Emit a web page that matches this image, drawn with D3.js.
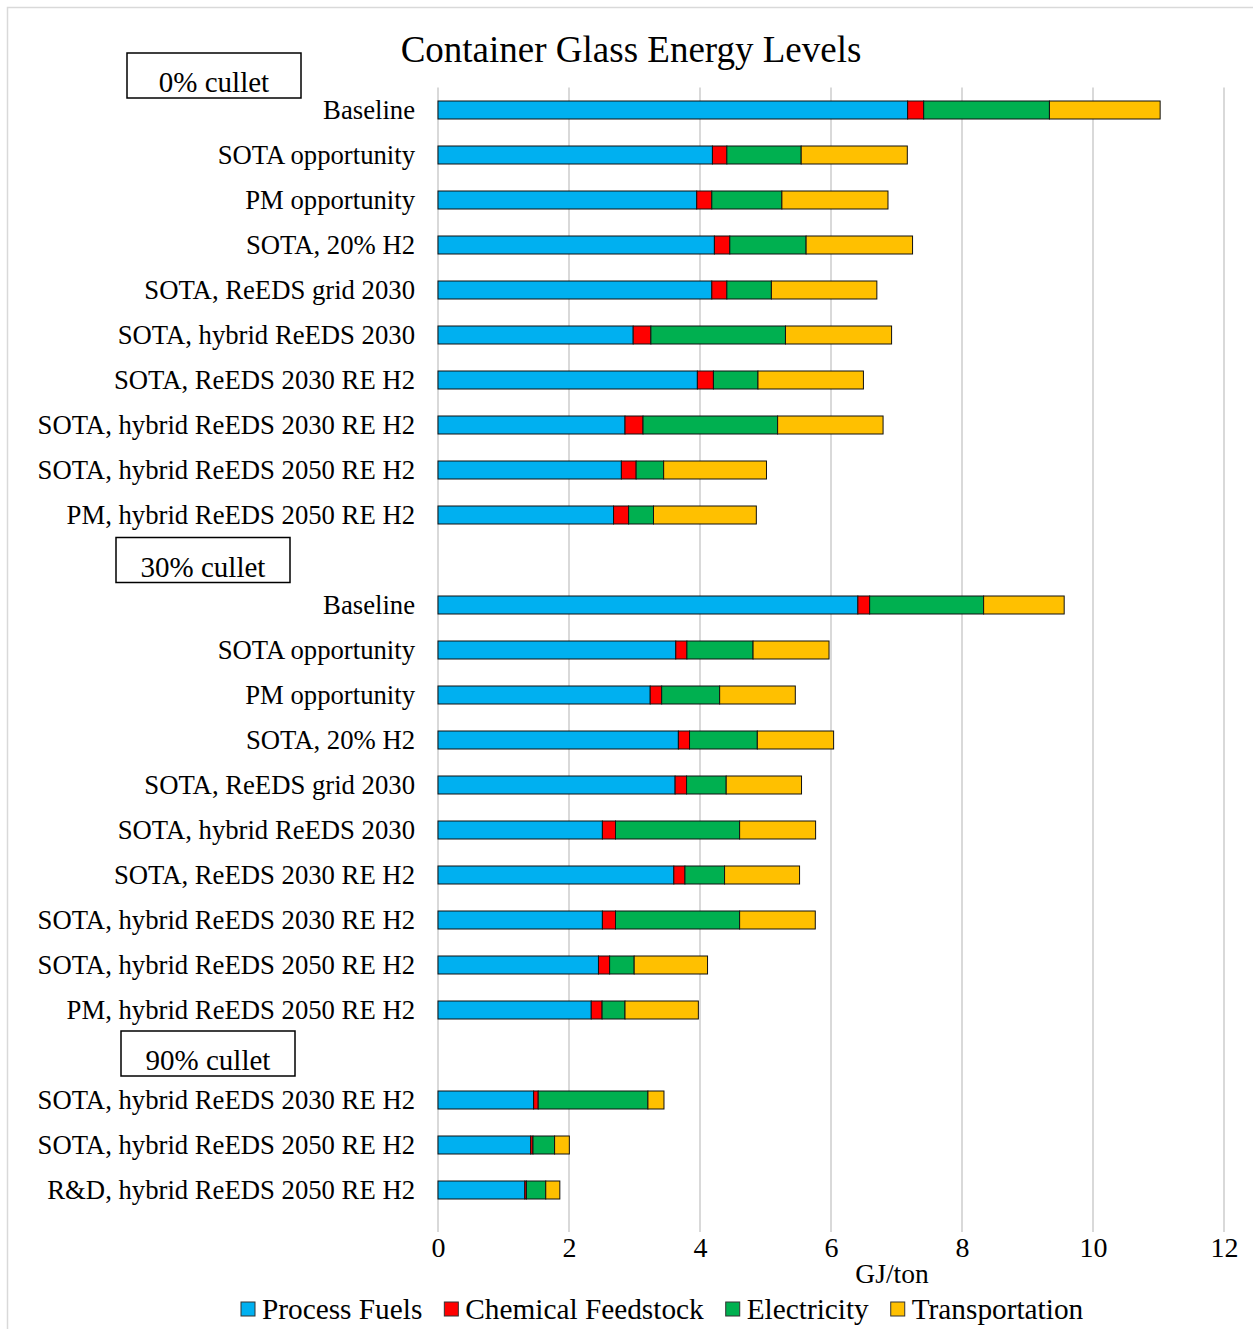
<!DOCTYPE html>
<html>
<head>
<meta charset="utf-8">
<script src="https://cdn.jsdelivr.net/npm/d3@7"></script>
<style>
  html, body { margin: 0; padding: 0; background: #fff; }
  svg { display: block; font-family: "Liberation Serif", "Times New Roman", serif; }
</style>
</head>
<body>
<svg id="chart" width="1253" height="1329"></svg>
<script>
// ---- Data (GJ/ton) ----
const groups = ["0% cullet", "30% cullet", "90% cullet"];

const scenarios0 = [
  "Baseline", "SOTA opportunity", "PM opportunity", "SOTA, 20% H2",
  "SOTA, ReEDS grid 2030", "SOTA, hybrid ReEDS 2030", "SOTA, ReEDS 2030 RE H2",
  "SOTA, hybrid ReEDS 2030 RE H2", "SOTA, hybrid ReEDS 2050 RE H2", "PM, hybrid ReEDS 2050 RE H2"
];
const scenarios30 = [
  "Baseline", "SOTA opportunity", "PM opportunity", "SOTA, 20% H2",
  "SOTA, ReEDS grid 2030", "SOTA, hybrid ReEDS 2030", "SOTA, ReEDS 2030 RE H2",
  "SOTA, hybrid ReEDS 2030 RE H2", "SOTA, hybrid ReEDS 2050 RE H2", "PM, hybrid ReEDS 2050 RE H2"
];
const scenarios90 = [
  "SOTA, hybrid ReEDS 2030 RE H2", "SOTA, hybrid ReEDS 2050 RE H2", "R&D, hybrid ReEDS 2050 RE H2"
];

const seriesNames = ["Process Fuels", "Chemical Feedstock", "Electricity", "Transportation"];
const seriesColors = ["#00B0F0", "#FF0000", "#00B050", "#FFC000"];

// values listed in order: 0% cullet (10), 30% cullet (10), 90% cullet (3)
const processFuels = [
  7.17, 4.19, 3.95, 4.22, 4.18, 2.98, 3.96, 2.855, 2.80, 2.68,
  6.41, 3.63, 3.24, 3.67, 3.62, 2.51, 3.60, 2.51, 2.45, 2.34,
  1.46, 1.415, 1.325
];
const chemicalFeedstock = [
  0.245, 0.22, 0.23, 0.235, 0.23, 0.27, 0.245, 0.275, 0.225, 0.23,
  0.18, 0.17, 0.175, 0.17, 0.175, 0.20, 0.17, 0.20, 0.17, 0.165,
  0.07, 0.035, 0.025
];
const electricity = [
  1.92, 1.135, 1.07, 1.165, 0.68, 2.055, 0.68, 2.055, 0.42, 0.38,
  1.74, 1.01, 0.885, 1.035, 0.605, 1.895, 0.605, 1.895, 0.375, 0.35,
  1.675, 0.33, 0.295
];
const transportation = [
  1.69, 1.62, 1.62, 1.625, 1.61, 1.62, 1.61, 1.61, 1.57, 1.57,
  1.23, 1.16, 1.155, 1.165, 1.15, 1.16, 1.145, 1.155, 1.12, 1.12,
  0.245, 0.225, 0.215
];

const xTicks = [0, 2, 4, 6, 8, 10, 12];
const xTitle = "GJ/ton";
const chartTitle = "Container Glass Energy Levels";

// ---- Build rows ----
const groupScenarios = [scenarios0, scenarios30, scenarios90];
const rows = [];
const slots = [];
let k = 0;
groupScenarios.forEach((list, gi) => {
  if (gi > 0) slots.push("gap-" + gi);
  list.forEach(name => {
    const id = "r" + k;
    slots.push(id);
    rows.push({
      id, name, group: gi,
      "Process Fuels": processFuels[k],
      "Chemical Feedstock": chemicalFeedstock[k],
      "Electricity": electricity[k],
      "Transportation": transportation[k]
    });
    k++;
  });
});

const stacked = d3.stack().keys(seriesNames)(rows);

// ---- Layout ----
const svg = d3.select("#chart");
const W = 1253, H = 1329;

const x = d3.scaleLinear().domain([0, 12]).range([438, 1224]);
const y = d3.scaleBand().domain(slots).range([87.5, 1212.5])
  .paddingInner(0.6).paddingOuter(0.3);
const color = d3.scaleOrdinal().domain(seriesNames).range(seriesColors);

// chart frame
svg.append("rect")
  .attr("x", 7.5).attr("y", 7.5)
  .attr("width", W + 20).attr("height", H + 20)
  .attr("fill", "#fff").attr("stroke", "#d9d9d9").attr("stroke-width", 1.5);

// vertical gridlines
const gridTop = 87.5, gridBottom = 1232;
svg.append("g").selectAll("line")
  .data(xTicks)
  .join("line")
  .attr("x1", d => x(d)).attr("x2", d => x(d))
  .attr("y1", gridTop).attr("y2", gridBottom)
  .attr("stroke", "#d9d9d9").attr("stroke-width", 2);

// x tick labels via axis generator
const xAxis = d3.axisBottom(x).tickValues(xTicks).tickSize(0).tickPadding(0);
const gx = svg.append("g").attr("transform", `translate(0, 1236)`).call(xAxis);
gx.select(".domain").remove();
gx.selectAll("text")
  .attr("font-family", "Liberation Serif, serif")
  .attr("font-size", 28)
  .attr("fill", "#000")
  .attr("dy", "0.75em");

// axis title
svg.append("text")
  .attr("x", 892).attr("y", 1283)
  .attr("text-anchor", "middle")
  .attr("font-size", 27.5).attr("fill", "#000")
  .text(xTitle);

// stacked bars
const layers = svg.append("g").selectAll("g")
  .data(stacked)
  .join("g")
  .attr("fill", d => color(d.key));

layers.selectAll("rect")
  .data(d => d)
  .join("rect")
  .attr("x", d => x(d[0]))
  .attr("width", d => x(d[1]) - x(d[0]))
  .attr("y", d => y(d.data.id))
  .attr("height", y.bandwidth())
  .attr("stroke", "#111")
  .attr("stroke-width", 1);

// category labels
svg.append("g").selectAll("text")
  .data(rows)
  .join("text")
  .attr("x", 415)
  .attr("y", d => y(d.id) + y.bandwidth() / 2)
  .attr("dy", "0.35em")
  .attr("text-anchor", "end")
  .attr("font-size", 26.7)
  .attr("fill", "#000")
  .text(d => d.name);

// group boxes
const boxLayout = [
  { x: 127, cy: y("r0") + y.bandwidth() / 2 - 34.5 },
  { x: 116, cy: y("gap-1") + y.bandwidth() / 2 },
  { x: 121, cy: y("gap-2") + y.bandwidth() / 2 - 1.5 }
];
const boxW = 174, boxH = 45;
const boxes = svg.append("g").selectAll("g")
  .data(groups)
  .join("g")
  .attr("transform", (d, i) => `translate(${boxLayout[i].x}, ${boxLayout[i].cy - boxH / 2})`);
boxes.append("rect")
  .attr("width", boxW).attr("height", boxH)
  .attr("fill", "#fff").attr("stroke", "#000").attr("stroke-width", 1.5);
boxes.append("text")
  .attr("x", boxW / 2).attr("y", boxH - 6)
  .attr("text-anchor", "middle")
  .attr("font-size", 29).attr("fill", "#000")
  .text(d => d);

// title
svg.append("text")
  .attr("x", 631).attr("y", 62)
  .attr("text-anchor", "middle")
  .attr("font-size", 37).attr("fill", "#000")
  .text(chartTitle);

// legend
const legend = svg.append("g");
let lx = 241;
seriesNames.forEach(name => {
  const g = legend.append("g").attr("transform", `translate(${lx}, 0)`);
  g.append("rect")
    .attr("x", 0).attr("y", 1302)
    .attr("width", 14).attr("height", 14)
    .attr("fill", color(name)).attr("stroke", "#333").attr("stroke-width", 1);
  const t = g.append("text")
    .attr("x", 21).attr("y", 1319)
    .attr("font-size", 29.3).attr("fill", "#000")
    .text(name);
  lx += 21 + t.node().getComputedTextLength() + 22;
});
</script>
</body>
</html>
